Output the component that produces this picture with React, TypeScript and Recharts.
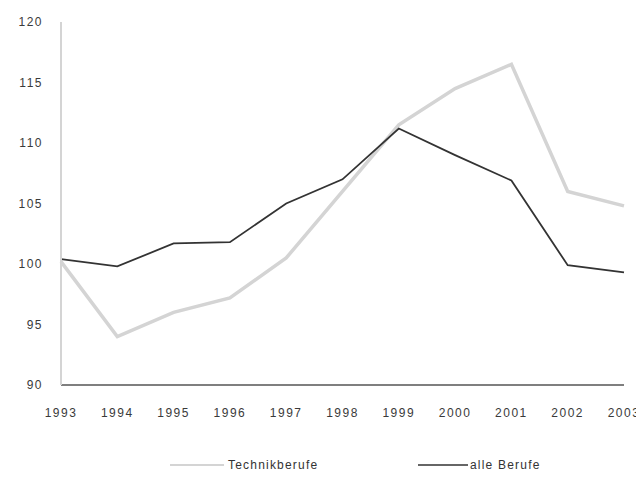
import { LineChart, Line, XAxis, YAxis, Legend } from 'recharts';

const years = ['1993', '1994', '1995', '1996', '1997', '1998', '1999', '2000', '2001', '2002', '2003'];
const technikberufe = [100.2, 94, 96, 97.2, 100.5, 106, 111.5, 114.5, 116.5, 106, 104.8];
const alleBerufe = [100.4, 99.8, 101.7, 101.8, 105, 107, 111.2, 109, 106.9, 99.9, 99.3];
const yTicks = [90, 95, 100, 105, 110, 115, 120];

const LIGHT = '#d4d4d4';
const DARK = '#333333';
const FONT = '"Liberation Sans", Arial, sans-serif';
const TICK = { fontSize: 12, fill: '#3a3a3a', fontFamily: FONT, letterSpacing: 1.5 };

const data = years.map((y, i) => ({ x: y, tech: technikberufe[i], alle: alleBerufe[i] }));

function LegendRow() {
  return (
    <svg width={636} height={20} style={{ display: 'block' }}>
      <line x1={162} y1={10} x2={216} y2={10} stroke={LIGHT} strokeWidth={2} />
      <text x={220} y={14} fontSize={12} fill="#333" fontFamily={FONT} letterSpacing={1.2}>Technikberufe</text>
      <line x1={410} y1={10} x2={460} y2={10} stroke={DARK} strokeWidth={1.5} />
      <text x={462} y={14} fontSize={12} fill="#333" fontFamily={FONT} letterSpacing={1.2}>alle Berufe</text>
    </svg>
  );
}

export default function App() {
  return (
    <div style={{ width: 636, height: 473, fontFamily: FONT }}>
      <LineChart width={636} height={473} data={data} margin={{ top: 14, right: 20, left: 0, bottom: 46 }}>
        <XAxis
          dataKey="x"
          tick={TICK}
          tickLine={false}
          tickSize={0}
          tickMargin={23}
          axisLine={{ stroke: '#555', strokeWidth: 1.5 }}
          interval={0}
          height={30}
        />
        <YAxis
          domain={[90, 120]}
          ticks={yTicks}
          tick={TICK}
          tickLine={false}
          tickSize={0}
          tickMargin={18}
          axisLine={{ stroke: '#d4d4d4', strokeWidth: 2 }}
          width={53}
        />
        <Legend
          verticalAlign="bottom"
          wrapperStyle={{ left: 0, top: 447, width: 636, height: 20 }}
          content={() => <LegendRow />}
        />
        <Line dataKey="tech" stroke={LIGHT} strokeWidth={3.5} dot={false} isAnimationActive={false} />
        <Line dataKey="alle" stroke={DARK} strokeWidth={1.8} dot={false} isAnimationActive={false} />
      </LineChart>
    </div>
  );
}
